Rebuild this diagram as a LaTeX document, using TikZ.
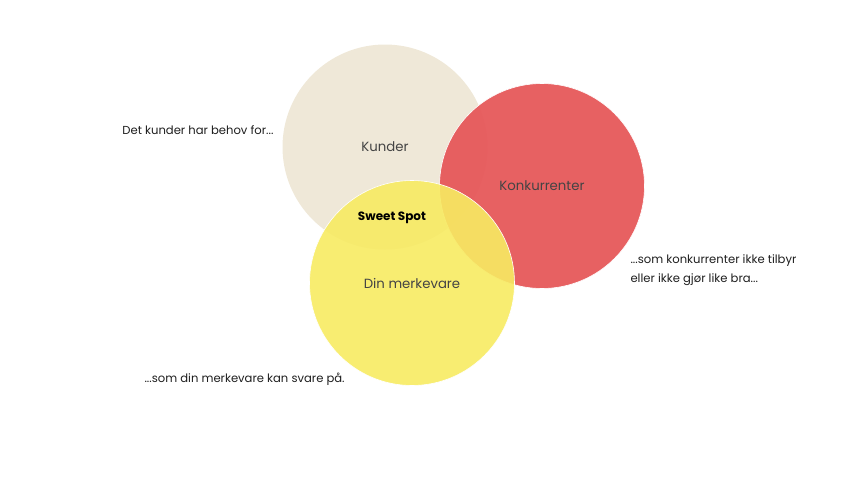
\documentclass[tikz,border=0pt]{standalone}
\usepackage{fontspec}
\setmainfont{Poppins}
\definecolor{kundecol}{HTML}{EFE8D8}
\definecolor{konkcol}{HTML}{E6585A}
\definecolor{merkecol}{HTML}{F7EB62}
\definecolor{textcol}{HTML}{1E1E1E}
\definecolor{labelcol}{HTML}{444444}
\begin{document}
\begin{tikzpicture}[x=1pt,y=-1pt,
    ring/.style={circle,minimum size=205pt,inner sep=0pt},
    ringlabel/.style={text=labelcol,font=\fontsize{13.3}{16}\selectfont},
    side/.style={text=textcol,font=\fontsize{11.6}{19}\selectfont,align=left}]
  \useasboundingbox (0,0) rectangle (854,480);
  \node[ring,fill=kundecol] (kunder) at (385,147) {};
  \node[ring,fill=konkcol,fill opacity=0.95,draw=white,line width=0.6pt] (konk) at (542,186) {};
  \node[ring,fill=merkecol,fill opacity=0.9,draw=white,line width=0.6pt] (merke) at (412,283) {};
  \node[ringlabel] (kl) at (kunder.center) {Kunder};
  \node[ringlabel] (kol) at (konk.center) {Konkurrenter};
  \node[ringlabel] (ml) at (merke.center) {Din merkevare};
  \node[text=black,font=\fontsize{12}{14}\selectfont\bfseries] (sweet) at (392,218) {Sweet Spot};
  \node[side,anchor=east] (behov) at (277,130) {Det kunder har behov for...};
  \node[side,anchor=west] (tilbyr) at (627,270) {...som konkurrenter ikke tilbyr\\eller ikke gjør like bra...};
  \node[side,anchor=west] (svare) at (141,379) {...som din merkevare kan svare på.};
\end{tikzpicture}
\end{document}
